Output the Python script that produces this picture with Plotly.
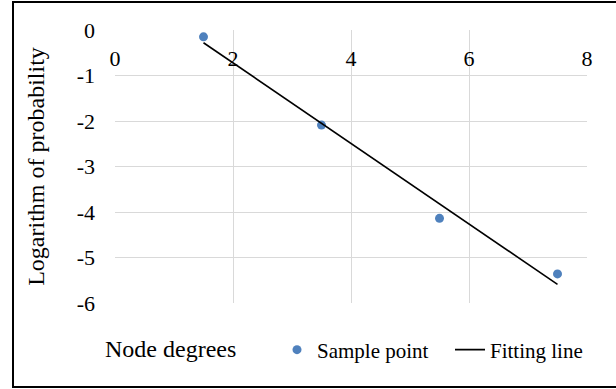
import plotly.graph_objects as go

# Data
sample_x = [1.5, 3.5, 5.5, 7.5]
sample_y = [-0.15, -2.09, -4.14, -5.36]
fit_x = [1.5, 7.5]
fit_y = [-0.28, -5.59]

x_ticks = [0, 2, 4, 6, 8]
y_ticks = [0, -1, -2, -3, -4, -5, -6]

FONT = "Liberation Serif"
W, H = 616, 389
L, R, T, B = 115, 29, 30, 86
pw, ph = W - L - R, H - T - B

def px(xp):
    return (xp - L) / pw

def py(yp):
    return (H - B - yp) / ph

fig = go.Figure()
fig.add_trace(go.Scatter(
    x=sample_x, y=sample_y, mode="markers", name="Sample point",
    marker=dict(color="#4F81BD", size=9),
))
fig.add_trace(go.Scatter(
    x=fit_x, y=fit_y, mode="lines", name="Fitting line",
    line=dict(color="black", width=1.6),
))

fig.update_layout(
    width=W, height=H,
    margin=dict(l=L, r=R, t=T, b=B, autoexpand=False),
    paper_bgcolor="white", plot_bgcolor="white",
    font=dict(family=FONT, size=22, color="black"),
    xaxis=dict(
        range=[0, 8], tickvals=x_ticks, side="bottom",
        anchor="free", position=1.0,
        ticks="", ticklabelstandoff=13,
        showgrid=True, gridcolor="#d9d9d9", gridwidth=1.3,
        zeroline=False, showline=False,
        tickfont=dict(family=FONT, size=22),
    ),
    yaxis=dict(
        range=[-6, 0], tickvals=y_ticks, ticktext=[str(v) for v in y_ticks],
        showgrid=True, gridcolor="#d9d9d9", gridwidth=1.3,
        zeroline=False, showline=False, ticks="", ticklabelstandoff=19,
        title=dict(text="Logarithm of probability", standoff=25,
                   font=dict(family=FONT, size=24)),
        tickfont=dict(family=FONT, size=22),
    ),
    showlegend=True,
    legend=dict(
        orientation="h", xref="paper", yref="paper",
        x=px(277), y=py(350), xanchor="left", yanchor="middle",
        font=dict(family=FONT, size=21), bgcolor="rgba(0,0,0,0)",
        itemwidth=30, tracegroupgap=0,
        entrywidth=128, entrywidthmode="pixels",
    ),
    annotations=[dict(
        text="Node degrees", xref="paper", yref="paper",
        x=px(103), y=py(349), xanchor="left", yanchor="middle",
        showarrow=False, font=dict(family=FONT, size=24),
    )],
    shapes=[dict(
        type="rect", xref="paper", yref="paper",
        x0=px(13), x1=px(622), y0=py(387), y1=py(2),
        line=dict(color="black", width=2), fillcolor="rgba(0,0,0,0)",
        layer="above",
    )],
)

fig.write_html("out.html")
